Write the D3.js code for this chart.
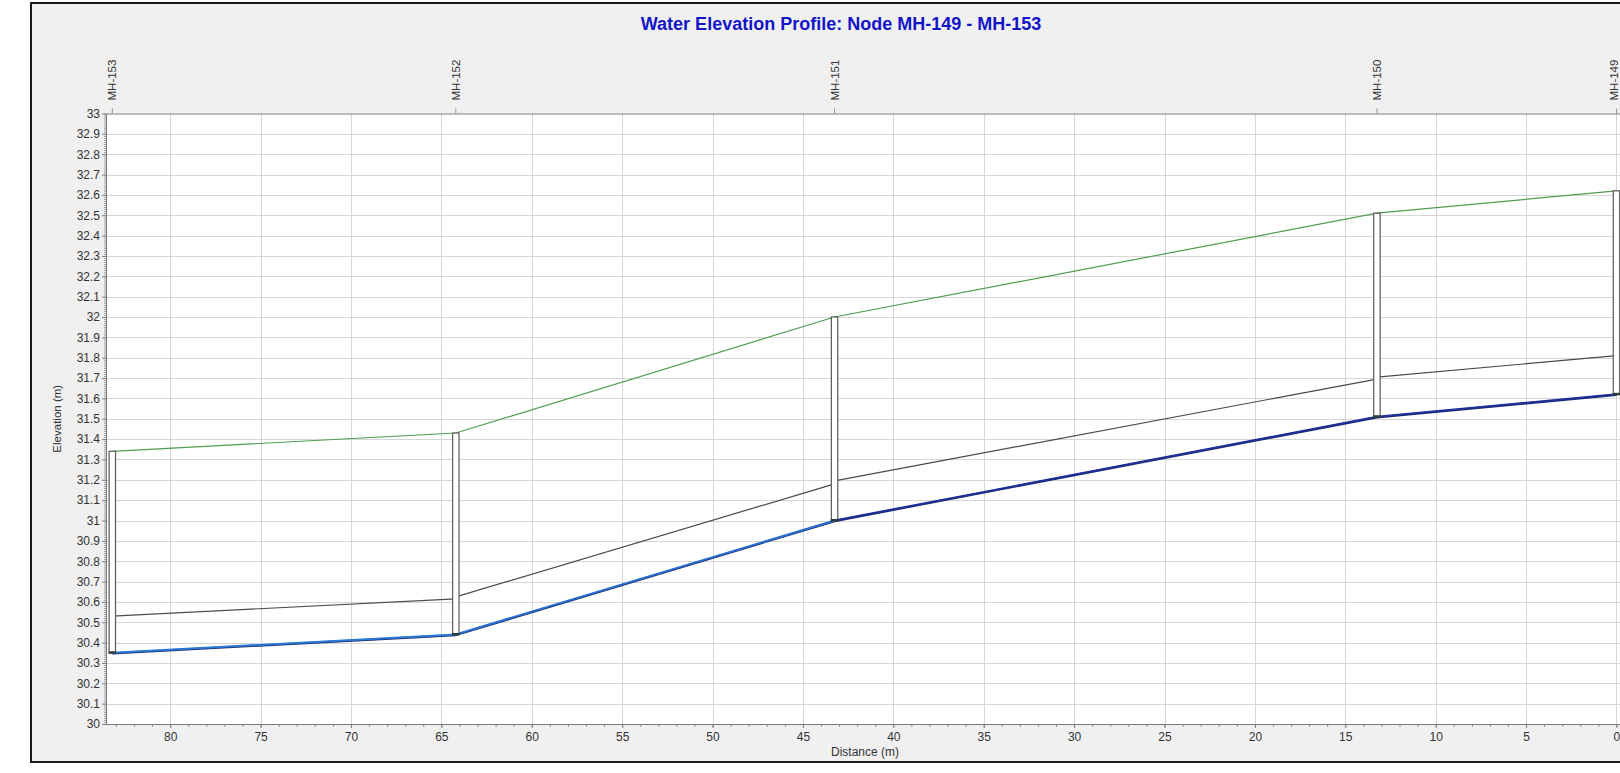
<!DOCTYPE html>
<html>
<head>
<meta charset="utf-8">
<script src="https://cdn.jsdelivr.net/npm/d3@7/dist/d3.min.js"></script>
<style>
  html, body { margin: 0; padding: 0; background: #ffffff; }
  svg { display: block; font-family: "Liberation Sans", Arial, sans-serif; }
</style>
</head>
<body>
<svg id="chart" width="1620" height="773"></svg>
<script>
// Manholes along the profile, listed downstream to upstream
const nodes = ["MH-153", "MH-152", "MH-151", "MH-150", "MH-149"];
const distance = [83.2, 64.2, 43.25, 13.25, 0];          // m from MH-149
const groundElev = [31.34, 31.43, 32.0, 32.51, 32.62];    // rim elevation (m)
const invertElev = [30.35, 30.44, 31.0, 31.51, 31.62];    // invert elevation (m)

// Hydraulic grade along each link (left node end, right node end)
const hglLeft = [30.53, 30.625, 31.195, 31.705];
const hglRight = [30.615, 31.18, 31.695, 31.81];

// Axis ticks
const xTicks = [80, 75, 70, 65, 60, 55, 50, 45, 40, 35, 30, 25, 20, 15, 10, 5, 0];
const yTicks = d3.range(30, 33.0001, 0.1).map(v => +v.toFixed(1));

const svg = d3.select("#chart");
const W = 1620, H = 773;
const plot = { left: 106, top: 113.5, right: 1623.7, bottom: 724 };

const x = d3.scaleLinear().domain([83.55, -0.4]).range([plot.left, plot.right]);
const y = d3.scaleLinear().domain([30, 33]).range([plot.bottom, plot.top]);

// Panel background and outer frame
svg.append("rect").attr("x", 31).attr("y", 3).attr("width", W).attr("height", 759)
  .attr("fill", "#f0f0f0").attr("stroke", "#1a1a1a").attr("stroke-width", 2);

// Plot area
svg.append("rect").attr("x", plot.left).attr("y", plot.top)
  .attr("width", plot.right - plot.left).attr("height", plot.bottom - plot.top)
  .attr("fill", "#ffffff");

// Grid
const grid = svg.append("g").attr("stroke", "#d6d6d6").attr("stroke-width", 1);
grid.selectAll("line.h").data(yTicks.slice(1, -1)).join("line")
  .attr("class", "h")
  .attr("x1", plot.left).attr("x2", plot.right)
  .attr("y1", d => Math.round(y(d)) + 0.5).attr("y2", d => Math.round(y(d)) + 0.5);
grid.selectAll("line.v").data(xTicks).join("line")
  .attr("class", "v")
  .attr("y1", plot.top).attr("y2", plot.bottom)
  .attr("x1", d => Math.round(x(d)) + 0.5).attr("x2", d => Math.round(x(d)) + 0.5);

// Plot border
svg.append("rect").attr("x", plot.left + 0.5).attr("y", plot.top + 0.5)
  .attr("width", plot.right - plot.left).attr("height", plot.bottom - plot.top)
  .attr("fill", "none").attr("stroke", "#7a7a7a").attr("stroke-width", 1);

// Left axis: minor ticks every 0.01 m, labelled majors every 0.1 m
const yMinor = svg.append("g").attr("transform", `translate(${plot.left},0)`)
  .call(d3.axisLeft(y).tickValues(d3.range(30, 33.0001, 0.01)).tickSize(2).tickFormat(""));
yMinor.select(".domain").remove();
yMinor.selectAll("line").attr("stroke", "#a0a0a0");

const yAxis = svg.append("g").attr("transform", `translate(${plot.left},0)`)
  .call(d3.axisLeft(y).tickValues(yTicks).tickSize(4).tickPadding(2)
    .tickFormat(d => d3.format("~g")(d)));
yAxis.select(".domain").remove();
yAxis.selectAll("line").attr("stroke", "#808080");
yAxis.selectAll("text").attr("font-size", 12).attr("fill", "#333333")
  .attr("font-family", "Liberation Sans, Arial, sans-serif");

// Bottom axis: minor ticks every metre
const xMinor = svg.append("g").attr("transform", `translate(0,${plot.bottom})`)
  .call(d3.axisBottom(x).tickValues(d3.range(0, 84, 1)).tickSize(3).tickFormat(""));
xMinor.select(".domain").remove();
xMinor.selectAll("line").attr("stroke", "#8a8a8a");

const xAxis = svg.append("g").attr("transform", `translate(0,${plot.bottom})`)
  .call(d3.axisBottom(x).tickValues(xTicks).tickSize(4).tickPadding(4));
xAxis.select(".domain").remove();
xAxis.selectAll("line").attr("stroke", "#808080");
xAxis.selectAll("text").attr("font-size", 12).attr("fill", "#333333")
  .attr("font-family", "Liberation Sans, Arial, sans-serif");

// Top axis: node names at manhole positions (kept inside the canvas edge)
const nodeAxis = svg.append("g");
nodeAxis.selectAll("line").data(distance).join("line")
  .attr("x1", d => x(d)).attr("x2", d => x(d))
  .attr("y1", plot.top - 5).attr("y2", plot.top)
  .attr("stroke", "#909090");
nodeAxis.selectAll("text").data(nodes).join("text")
  .attr("transform", (d, i) => `translate(${Math.min(x(distance[i]), W - 6)},${plot.top - 13}) rotate(-90)`)
  .attr("dy", "0.35em")
  .attr("font-size", 11.5).attr("fill", "#333333")
  .text(d => d);

// Axis titles
svg.append("text").attr("x", 865).attr("y", 756).attr("text-anchor", "middle")
  .attr("font-size", 12).attr("fill", "#333333").text("Distance (m)");
svg.append("text")
  .attr("transform", `translate(61,${(plot.top + plot.bottom) / 2}) rotate(-90)`)
  .attr("text-anchor", "middle").attr("font-size", 11.5).attr("fill", "#333333")
  .text("Elevation (m)");

// Chart title
svg.append("text").attr("x", 841).attr("y", 30).attr("text-anchor", "middle")
  .attr("font-size", 18).attr("font-weight", "bold").attr("fill", "#1414c8")
  .text("Water Elevation Profile: Node MH-149 - MH-153");

// Profile lines
const pts = arr => arr.map((v, i) => [x(distance[i]), y(v)]);
const line = d3.line();

// Ground / rim
svg.append("path").attr("d", line(pts(groundElev)))
  .attr("fill", "none").attr("stroke", "#4f9d4f").attr("stroke-width", 1.2);

// Hydraulic grade line, one segment per link
const links = d3.range(nodes.length - 1);
svg.append("g").selectAll("path").data(links).join("path")
  .attr("d", i => line([[x(distance[i]), y(hglLeft[i])], [x(distance[i + 1]), y(hglRight[i])]]))
  .attr("fill", "none").attr("stroke", "#4a4a4a").attr("stroke-width", 1.2);

// Pipe invert
const invertColor = ["#2a78d8", "#2a6fd0", "#1f2f98", "#1f2f98"];
const invertG = svg.append("g");
invertG.selectAll("path.under").data(links).join("path")
  .attr("class", "under")
  .attr("d", i => line([[x(distance[i]), y(invertElev[i]) + 0.6], [x(distance[i + 1]), y(invertElev[i + 1]) + 0.6]]))
  .attr("fill", "none").attr("stroke", "#1a2a6a").attr("stroke-width", 2.2);
invertG.selectAll("path.over").data(links).join("path")
  .attr("class", "over")
  .attr("d", i => line([[x(distance[i]), y(invertElev[i])], [x(distance[i + 1]), y(invertElev[i + 1])]]))
  .attr("fill", "none").attr("stroke", (i) => invertColor[i]).attr("stroke-width", 2);

// Manhole shafts
const mh = svg.append("g");
mh.selectAll("rect.shaft").data(nodes).join("rect")
  .attr("class", "shaft")
  .attr("x", (d, i) => x(distance[i]) - 3.2)
  .attr("y", (d, i) => y(groundElev[i]))
  .attr("width", 6.4)
  .attr("height", (d, i) => y(invertElev[i]) - y(groundElev[i]))
  .attr("fill", "#ffffff").attr("stroke", "#5a5a5a").attr("stroke-width", 1.2);
mh.selectAll("rect.base").data(nodes).join("rect")
  .attr("class", "base")
  .attr("x", (d, i) => x(distance[i]) - 3.8)
  .attr("y", (d, i) => y(invertElev[i]) - 1.5)
  .attr("width", 7.6).attr("height", 2.5)
  .attr("fill", "#2b3b3b");
</script>
</body>
</html>
